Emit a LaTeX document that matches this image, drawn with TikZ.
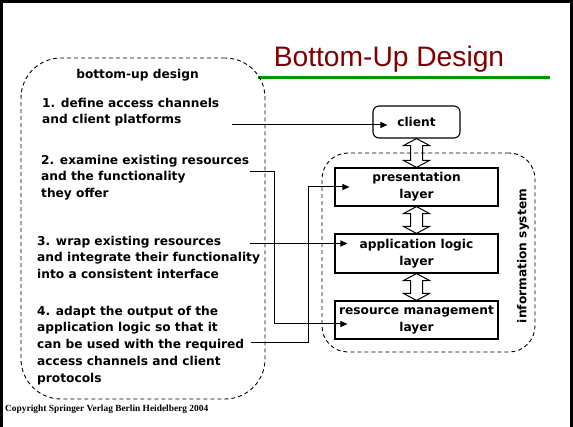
\documentclass[tikz,border=0pt]{standalone}
\usepackage{fontspec}
\setmainfont{DejaVu Sans}
\newfontfamily\titlefont{Liberation Sans}
\newfontfamily\notefont{Liberation Serif}
\usetikzlibrary{arrows.meta,calc}
\definecolor{titlered}{RGB}{128,0,0}
\definecolor{rulegreen}{RGB}{0,153,0}
% hollow two-headed arrow between the bottom of #1 and the top of #2
\newcommand\hollowlink[2]{%
  \draw[hollow] (#1.south) -- ($(#1.south)+(13,7)$) -- ($(#1.south)+(6,7)$)
    -- ($(#2.north)+(6,-7)$) -- ($(#2.north)+(13,-7)$) -- (#2.north)
    -- ($(#2.north)+(-13,-7)$) -- ($(#2.north)+(-6,-7)$)
    -- ($(#1.south)+(-6,7)$) -- ($(#1.south)+(-13,7)$) -- cycle;}
\begin{document}
\begin{tikzpicture}[x=1pt,y=-1pt,
  body/.style={font=\bfseries\fontsize{12.2}{16.8}\selectfont, inner sep=0pt},
  item/.style={body, align=left, anchor=north west},
  layerbox/.style={body, draw, line width=1.1pt, minimum width=163pt,
    minimum height=38pt, align=center},
  region/.style={draw, dash pattern=on 4pt off 3pt, line width=0.9pt},
  conn/.style={line width=1pt, -{Triangle[length=7pt,width=6pt]}},
  hollow/.style={line width=1pt, line join=miter}]
\useasboundingbox (0,0) rectangle (573,427);

% slide frame and title
\draw[line width=3pt] (1.5,440) -- (1.5,1.5) -- (571.5,1.5) -- (571.5,440);
\node[font=\titlefont\fontsize{28.2}{30}\selectfont, text=titlered,
  anchor=base, inner sep=0pt] (title) at (389,67) {Bottom-Up Design};
\draw[rulegreen, line width=3pt] (258,77.3) -- (550,77.3);

% left column: the design steps
\node[region, rounded corners=40pt, minimum width=244pt, minimum height=341pt]
  (steps) at (143,228.5) {};
\node[body, anchor=base] (heading) at (137.5,78.5) {bottom-up design};
\node[item] (step1) at (42,97) {\rule{0pt}{10pt}1. define access channels\\and client platforms};
\node[item] (step2) at (41,154) {\rule{0pt}{10pt}2. examine existing resources\\and the functionality\\they offer};
\node[item] (step3) at (37,235) {\rule{0pt}{10pt}3. wrap existing resources\\and integrate their functionality\\into a consistent interface};
\node[item] (step4) at (37,305) {\rule{0pt}{10pt}4. adapt the output of the\\application logic so that it\\can be used with the required\\access channels and client\\protocols};

% right column: the layers
\node[region, rounded corners=26pt, minimum width=213pt, minimum height=199pt]
  (infosys) at (428.5,252.5) {};
\node[body, rotate=90] (infolabel) at (523,256) {information system};
\node[layerbox, rounded corners=6pt, minimum width=87pt, minimum height=32pt]
  (client) at (416.5,122) {client};
\node[layerbox] (pres) at (416.5,187) {presentation\\layer};
\node[layerbox, minimum height=39pt] (app) at (416.5,253.5) {application logic\\layer};
\node[layerbox] (res) at (416.5,320) {resource management\\layer};

\hollowlink{client}{pres}
\hollowlink{pres}{app}
\hollowlink{app}{res}

% connectors from the steps to the layers
\coordinate (from1) at (232,125);
\coordinate (from2) at (250,172);
\coordinate (from3) at (250,243.5);
\coordinate (from4) at (251,343);
\draw[conn] (from1) -- ($(client.west)+(15,3)$);
\draw[conn] (from2) -- ++(24,0) |- ($(res.west)+(13,4)$);
\draw[conn] (from3) -- ($(app.west)+(13,-10)$);
\draw[conn] (from4) -- ++(57,0) |- ($(pres.west)+(15,0)$);

\node[font=\notefont\bfseries\fontsize{9.4}{10}\selectfont, anchor=base west,
  inner sep=0pt] (copyright) at (5,412)
  {Copyright Springer Verlag Berlin Heidelberg 2004};
\end{tikzpicture}
\end{document}
